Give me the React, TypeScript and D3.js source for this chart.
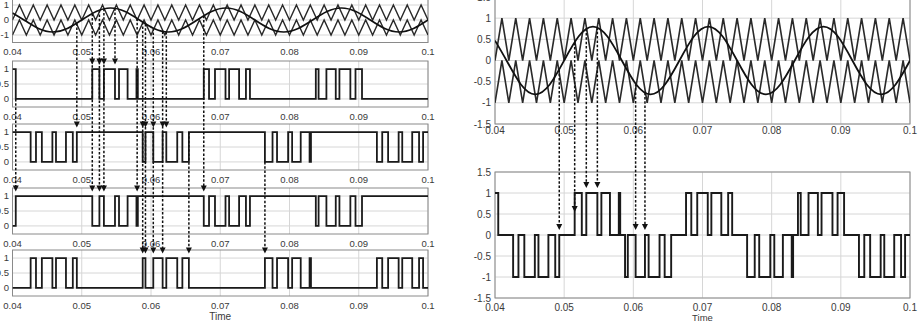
import React from 'react';
import * as d3 from 'd3';

const xTicks = [0.04, 0.05, 0.06, 0.07, 0.08, 0.09, 0.1];
const xTickLabels = ['0.04', '0.05', '0.06', '0.07', '0.08', '0.09', '0.1'];

const carrierTimes = [
  0.040, 0.041, 0.042, 0.043, 0.044, 0.045, 0.046, 0.047, 0.048, 0.049,
  0.050, 0.051, 0.052, 0.053, 0.054, 0.055, 0.056, 0.057, 0.058, 0.059,
  0.060, 0.061, 0.062, 0.063, 0.064, 0.065, 0.066, 0.067, 0.068, 0.069,
  0.070, 0.071, 0.072, 0.073, 0.074, 0.075, 0.076, 0.077, 0.078, 0.079,
  0.080, 0.081, 0.082, 0.083, 0.084, 0.085, 0.086, 0.087, 0.088, 0.089,
  0.090, 0.091, 0.092, 0.093, 0.094, 0.095, 0.096, 0.097, 0.098, 0.099,
  0.100,
];
const upperCarrier = [
  0, 1, 0, 1, 0, 1, 0, 1, 0, 1,
  0, 1, 0, 1, 0, 1, 0, 1, 0, 1,
  0, 1, 0, 1, 0, 1, 0, 1, 0, 1,
  0, 1, 0, 1, 0, 1, 0, 1, 0, 1,
  0, 1, 0, 1, 0, 1, 0, 1, 0, 1,
  0, 1, 0, 1, 0, 1, 0, 1, 0, 1,
  0,
];
const lowerCarrier = [
  -1, 0, -1, 0, -1, 0, -1, 0, -1, 0,
  -1, 0, -1, 0, -1, 0, -1, 0, -1, 0,
  -1, 0, -1, 0, -1, 0, -1, 0, -1, 0,
  -1, 0, -1, 0, -1, 0, -1, 0, -1, 0,
  -1, 0, -1, 0, -1, 0, -1, 0, -1, 0,
  -1, 0, -1, 0, -1, 0, -1, 0, -1, 0,
  -1,
];

const modTimes = [
  0.04, 0.041667, 0.04375, 0.045833, 0.047917, 0.05, 0.052083, 0.054167, 0.05625, 0.058333,
  0.060417, 0.0625, 0.064583, 0.066667, 0.06875, 0.070833, 0.072917, 0.075, 0.077083, 0.079167,
  0.08125, 0.083333, 0.085417, 0.0875, 0.089583, 0.091667, 0.09375, 0.095833, 0.097917, 0.1,
];
const modValues = [
  0.47, 0, -0.566, -0.8, -0.566, 0, 0.566, 0.8, 0.566, 0,
  -0.566, -0.8, -0.566, 0, 0.566, 0.8, 0.566, 0, -0.566, -0.8,
  -0.566, 0, 0.566, 0.8, 0.566, 0, -0.566, -0.8, -0.566, 0,
];

// switching pulses (start, end) read from the gate signals
const upperPulses = [
  [0.04, 0.04047], [0.05152, 0.05255], [0.0532, 0.0548], [0.05538, 0.05662], [0.0579, 0.0581],
  [0.06762, 0.06838], [0.06924, 0.07076], [0.07128, 0.07272], [0.07371, 0.07429],
  [0.0838, 0.0842], [0.08533, 0.08668], [0.08721, 0.08879], [0.08953, 0.09047],
];
const lowerPulses = [
  [0.04262, 0.04339], [0.04424, 0.04576], [0.04628, 0.04772], [0.04871, 0.04929],
  [0.0588, 0.0592], [0.06033, 0.06168], [0.06221, 0.06379], [0.06453, 0.06547],
  [0.07645, 0.07755], [0.0782, 0.0798], [0.08038, 0.08162], [0.0829, 0.0831],
  [0.09262, 0.09339], [0.09424, 0.09576], [0.09628, 0.09772], [0.09871, 0.09929],
];

const carrierTicks = [-1, 0, 1];
const carrierTickLabels = ['-1', '0', '1'];
const gateTicks = [0, 0.5, 1];
const gateTickLabels = ['0', '0.5', '1'];
const rightTicks = [-1.5, -1, -0.5, 0, 0.5, 1, 1.5];
const rightTickLabels = ['-1.5', '-1', '-0.5', '0', '0.5', '1', '1.5'];

// dashed arrows, left figure
const leftDashTimes = [0.04047, 0.04929, 0.05152, 0.05255, 0.0532, 0.0548, 0.058, 0.0588, 0.0592, 0.06033, 0.06168, 0.06221, 0.06547, 0.06762, 0.07645];
const leftDashFromRow = [1, 0, 0, 0, 0, 0, 0, 0, 0, 0, 0, 0, 2, 0, 2];
const leftDashFromVal = [0, -0.21, 0.42, 0.66, 0.75, 0.78, 0.1, -0.14, -0.26, -0.55, -0.76, -0.8, 1, 0.28, 0];
const leftDashArrowRows = [[3], [2], [1, 3], [1, 3], [1, 3], [1], [3], [2, 4], [2, 4], [2, 4], [2, 4], [2], [4], [3], [4]];

// dashed arrows, right figure
const rightDashTimes = [0.04929, 0.05152, 0.0532, 0.0548, 0.06033, 0.06168];
const rightDashFromVal = [-0.21, 0.42, 0.75, 0.78, -0.55, -0.76];
const rightDashToVal = [0.12, 0.55, 1.12, 1.12, 0.12, 0.12];

const FONT = "'Liberation Sans', Arial, Helvetica, sans-serif";
const TXT = '#3a3a3a';
const GRID = '#d6d6d6';
const BOX = '#8a8a8a';

type Pt = [number, number];

function steps(groups: { pulses: number[][]; on: number; off: number }[]): Pt[] {
  const ev: Pt[] = [];
  groups.forEach((g) => g.pulses.forEach(([s, e]) => { ev.push([s, g.on]); ev.push([e, g.off]); }));
  ev.sort((a, b) => a[0] - b[0]);
  let cur = groups[0].off;
  ev.forEach(([t, v]) => { if (t <= 0.04) cur = v; });
  const pts: Pt[] = [[0.04, cur]];
  ev.forEach(([t, v]) => { if (t > 0.04) { pts.push([t, v]); cur = v; } });
  pts.push([0.1, cur]);
  return pts;
}

const leftRows = [
  { top: -2.5, bottom: 42.5, domain: [-1.5, 1.5], ticks: carrierTicks, labels: carrierTickLabels },
  { top: 61, bottom: 107, domain: [-0.27, 1.27], ticks: gateTicks, labels: gateTickLabels },
  { top: 124, bottom: 170, domain: [-0.27, 1.27], ticks: gateTicks, labels: gateTickLabels },
  { top: 188, bottom: 234, domain: [-0.27, 1.27], ticks: gateTicks, labels: gateTickLabels },
  { top: 250, bottom: 296, domain: [-0.27, 1.27], ticks: gateTicks, labels: gateTickLabels },
];

function Arrow({ x, tip }: { x: number; tip: number }) {
  return <path d={`M${x - 3},${tip - 6}L${x + 3},${tip - 6}L${x},${tip}Z`} fill="#111" />;
}

export default function App() {
  const xL = d3.scaleLinear().domain([0.04, 0.1]).range([12.5, 428]);
  const xR = d3.scaleLinear().domain([0.04, 0.1]).range([495, 910]);
  const yRows = leftRows.map((r) => d3.scaleLinear().domain(r.domain).range([r.bottom, r.top]));
  const yRT = d3.scaleLinear().domain([-1.5, 1.5]).range([124, -3]);
  const yRB = d3.scaleLinear().domain([-1.5, 1.5]).range([298, 172]);

  const upPts: Pt[] = carrierTimes.map((t, i) => [t, upperCarrier[i]]);
  const loPts: Pt[] = carrierTimes.map((t, i) => [t, lowerCarrier[i]]);
  const modPts: Pt[] = modTimes.map((t, i) => [t, modValues[i]]);

  const sA = steps([{ pulses: upperPulses, on: 1, off: 0 }]);
  const sNotB = steps([{ pulses: lowerPulses, on: 0, off: 1 }]);
  const sNotA = steps([{ pulses: upperPulses, on: 0, off: 1 }]);
  const sB = steps([{ pulses: lowerPulses, on: 1, off: 0 }]);
  const sOut = steps([{ pulses: upperPulses, on: 1, off: 0 }, { pulses: lowerPulses, on: -1, off: 0 }]);
  const gateSeries = [null, sA, sNotB, sNotA, sB];

  const lineFn = (x: d3.ScaleLinear<number, number>, y: d3.ScaleLinear<number, number>, curve: d3.CurveFactory) =>
    d3.line<Pt>().x((d) => x(d[0])).y((d) => y(d[1])).curve(curve);

  const renderGridBox = (key: string, x: d3.ScaleLinear<number, number>, y: d3.ScaleLinear<number, number>, top: number, bottom: number, ticks: number[]) => (
    <g key={key}>
      {xTicks.map((t) => (
        <line key={'gx' + t} x1={x(t)} x2={x(t)} y1={top} y2={bottom} stroke={GRID} strokeWidth={1} />
      ))}
      {ticks.map((t) => (
        <line key={'gy' + t} x1={x(0.04)} x2={x(0.1)} y1={y(t)} y2={y(t)} stroke={GRID} strokeWidth={1} />
      ))}
      <rect x={x(0.04)} y={top} width={x(0.1) - x(0.04)} height={bottom - top} fill="none" stroke={BOX} strokeWidth={1} />
    </g>
  );

  return (
    <svg width={921} height={322} style={{ position: 'absolute', left: 0, top: 0, background: '#fff' }} fontFamily={FONT}>
      <rect x={0} y={0} width={921} height={322} fill="#fff" />
      <defs>
        {leftRows.map((r, i) => (
          <clipPath key={i} id={'clipL' + i}>
            <rect x={xL(0.04)} y={r.top - 1} width={xL(0.1) - xL(0.04)} height={r.bottom - r.top + 2} />
          </clipPath>
        ))}
        <clipPath id="clipRT"><rect x={xR(0.04)} y={-3} width={xR(0.1) - xR(0.04)} height={127} /></clipPath>
        <clipPath id="clipRB"><rect x={xR(0.04)} y={172} width={xR(0.1) - xR(0.04)} height={126} /></clipPath>
      </defs>

      {/* LEFT FIGURE */}
      {leftRows.map((r, i) => (
        <g key={'row' + i}>
          {renderGridBox('lg' + i, xL, yRows[i], r.top, r.bottom, r.ticks)}
          {r.ticks.map((t, k) => (
            <text key={'yl' + k} x={9} y={yRows[i](t) + 3.4} textAnchor="end" fontSize={9.5} fill={TXT}>{r.labels[k]}</text>
          ))}
          {xTicks.map((t, k) => (
            <text key={'xl' + k} x={xL(t)} y={r.bottom + 12.5} textAnchor="middle" fontSize={9.5} fill={TXT}>{xTickLabels[k]}</text>
          ))}
        </g>
      ))}
      <g clipPath="url(#clipL0)">
        <path d={lineFn(xL, yRows[0], d3.curveLinear)(upPts) || ''} fill="none" stroke="#2a2a2a" strokeWidth={1.4} />
        <path d={lineFn(xL, yRows[0], d3.curveLinear)(loPts) || ''} fill="none" stroke="#2a2a2a" strokeWidth={1.4} />
        <path d={lineFn(xL, yRows[0], d3.curveNatural)(modPts) || ''} fill="none" stroke="#111" strokeWidth={1.7} />
      </g>
      {gateSeries.map((s, i) =>
        s ? (
          <g key={'gs' + i} clipPath={`url(#clipL${i})`}>
            <path d={lineFn(xL, yRows[i], d3.curveStepAfter)(s) || ''} fill="none" stroke="#1a1a1a" strokeWidth={1.8} />
          </g>
        ) : null
      )}
      {leftDashTimes.map((t, i) => {
        const x = xL(t);
        const y0 = yRows[leftDashFromRow[i]](leftDashFromVal[i]);
        const rows = leftDashArrowRows[i];
        const tips = rows.map((r) => yRows[r](1.15));
        const last = tips[tips.length - 1];
        return (
          <g key={'ld' + i}>
            <line x1={x} x2={x} y1={y0} y2={last - 5} stroke="#111" strokeWidth={1.5} strokeDasharray="2.5,1.8" />
            {tips.map((tp, k) => <Arrow key={k} x={x} tip={tp} />)}
          </g>
        );
      })}
      <text x={xL(0.07)} y={319.5} textAnchor="middle" fontSize={10} fill={TXT}>Time</text>

      {/* RIGHT FIGURE */}
      {renderGridBox('rt', xR, yRT, -3, 124, rightTicks)}
      {renderGridBox('rb', xR, yRB, 172, 298, rightTicks)}
      {rightTicks.map((t, k) => (
        <text key={'ryt' + k} x={491} y={yRT(t) + 3.5} textAnchor="end" fontSize={10} fill={TXT}>{rightTickLabels[k]}</text>
      ))}
      {rightTicks.map((t, k) => (
        <text key={'ryb' + k} x={491} y={yRB(t) + 3.5} textAnchor="end" fontSize={10} fill={TXT}>{rightTickLabels[k]}</text>
      ))}
      {xTicks.map((t, k) => (
        <text key={'rxt' + k} x={xR(t)} y={134} textAnchor="middle" fontSize={10} fill={TXT}>{xTickLabels[k]}</text>
      ))}
      {xTicks.map((t, k) => (
        <text key={'rxb' + k} x={xR(t)} y={310.5} textAnchor="middle" fontSize={10} fill={TXT}>{xTickLabels[k]}</text>
      ))}
      <g clipPath="url(#clipRT)">
        <path d={lineFn(xR, yRT, d3.curveLinear)(upPts) || ''} fill="none" stroke="#2a2a2a" strokeWidth={1.6} />
        <path d={lineFn(xR, yRT, d3.curveLinear)(loPts) || ''} fill="none" stroke="#2a2a2a" strokeWidth={1.6} />
        <path d={lineFn(xR, yRT, d3.curveNatural)(modPts) || ''} fill="none" stroke="#111" strokeWidth={1.8} />
      </g>
      <g clipPath="url(#clipRB)">
        <path d={lineFn(xR, yRB, d3.curveStepAfter)(sOut) || ''} fill="none" stroke="#1a1a1a" strokeWidth={1.9} />
      </g>
      {rightDashTimes.map((t, i) => {
        const x = xR(t);
        const y0 = yRT(rightDashFromVal[i]);
        const tip = yRB(rightDashToVal[i]);
        return (
          <g key={'rd' + i}>
            <line x1={x} x2={x} y1={y0} y2={tip - 5} stroke="#111" strokeWidth={1.5} strokeDasharray="2.5,1.8" />
            <Arrow x={x} tip={tip} />
          </g>
        );
      })}
      <text x={xR(0.07)} y={320.5} textAnchor="middle" fontSize={9.5} fill={TXT}>Time</text>
    </svg>
  );
}
